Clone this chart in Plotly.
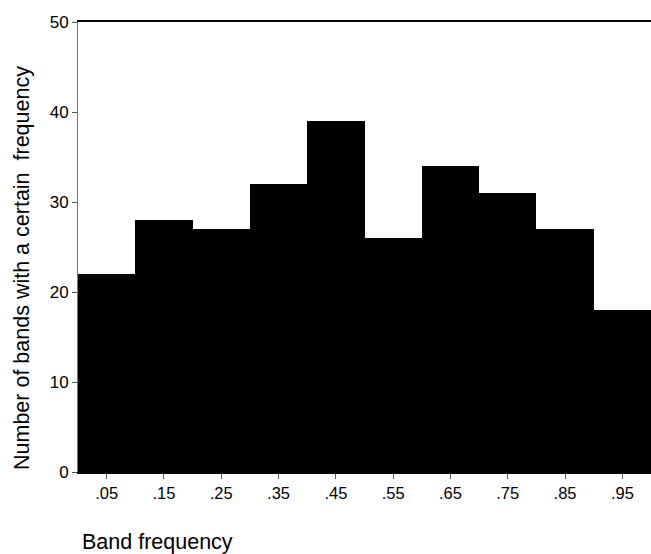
import plotly.graph_objects as go

bin_centers = [0.05, 0.15, 0.25, 0.35, 0.45, 0.55, 0.65, 0.75, 0.85, 0.95]
tick_labels = [".05", ".15", ".25", ".35", ".45", ".55", ".65", ".75", ".85", ".95"]
counts = [22, 28, 27, 32, 39, 26, 34, 31, 27, 18]
y_ticks = [0, 10, 20, 30, 40, 50]

W, H = 651, 554
L, R, T, B = 78, 0, 22, 554 - 472
pw = W - L - R
ph = H - T - B

fig = go.Figure()
fig.add_trace(go.Bar(x=bin_centers, y=counts, width=0.1,
                     marker=dict(color="black", line=dict(width=0)),
                     showlegend=False, hoverinfo="skip"))

font = "Liberation Sans, Arial, sans-serif"
fig.update_layout(
    width=W, height=H,
    margin=dict(l=L, r=R, t=T, b=B, pad=0),
    paper_bgcolor="white", plot_bgcolor="white",
    bargap=0,
    font=dict(family=font, color="black", size=16),
    xaxis=dict(range=[0, 1], tickvals=bin_centers, ticktext=tick_labels,
               showgrid=False, zeroline=False,
               showline=True, linecolor="black", linewidth=2, mirror=True,
               ticks="outside", ticklen=5, tickcolor="#555", tickwidth=1,
               tickfont=dict(size=16.5, family=font)),
    yaxis=dict(range=[0, 50], tickvals=y_ticks, showgrid=False, zeroline=False,
               showline=True, linecolor="#777", linewidth=1,
               ticks="outside", ticklen=5, tickcolor="#555", tickwidth=1,
               tickfont=dict(size=17, family=font)),
    annotations=[
        dict(text="Number of bands with a certain  frequency", textangle=-90,
             xref="paper", yref="paper", x=-(78 - 22) / pw, y=(472 - 268) / ph,
             xanchor="center", yanchor="middle", showarrow=False,
             font=dict(size=21.5, family=font)),
        dict(text="Band frequency",
             xref="paper", yref="paper", x=(80 - 78) / pw, y=-(542 - 472) / ph,
             xanchor="left", yanchor="middle", showarrow=False,
             font=dict(size=21.5, family=font)),
    ],
)

post = (
    "document.body.style.margin='0';"
    "document.body.style.overflow='hidden';"
    "var gd=document.getElementById('{plot_id}');"
    "gd.style.width='651px';gd.style.height='554px';"
    "Plotly.relayout(gd,{width:651,height:554});"
)
fig.write_html("out.html", post_script=post, config={"displayModeBar": False})
